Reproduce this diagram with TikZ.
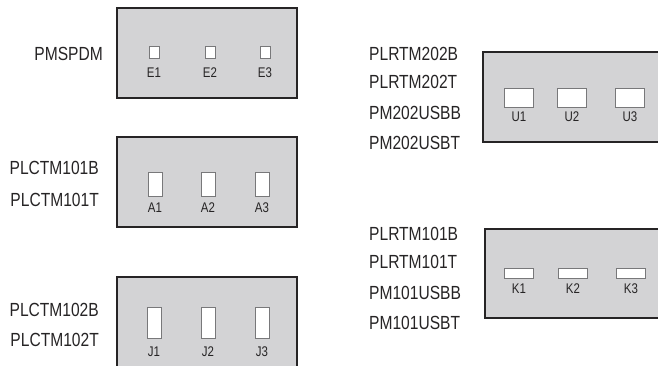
\documentclass[tikz,border=0pt]{standalone}
\usepackage{graphicx}
\usepackage{fontspec}
\setmainfont{Liberation Sans}
\usepackage{tikz}
\usetikzlibrary{positioning}

\definecolor{panelgray}{RGB}{211,211,213}
\definecolor{inkgray}{RGB}{38,36,37}
\definecolor{slotedge}{RGB}{120,120,122}
\newcommand{\cond}[1]{\scalebox{0.82}[1]{#1}}

\tikzset{
	panel/.style={draw=inkgray,line width=1.8pt,fill=panelgray,inner sep=0pt},
	slot/.style={draw=slotedge,line width=0.9pt,fill=white,inner sep=0pt},
	tag/.style={inner sep=0pt,text=inkgray,font=\fontsize{14}{16}\selectfont},
	part/.style={inner sep=0pt,text=inkgray,font=\fontsize{19}{22}\selectfont}
}

\begin{document}
\begin{tikzpicture}[x=1pt,y=-1pt]
	\useasboundingbox (0,0) rectangle (658,366);
	\clip (0,0) rectangle (658,366);
	% panels
	\node [panel,minimum width=180,minimum height=90] (pe) at (207,53) {};
	\node [panel,minimum width=180,minimum height=90] (pa) at (207,182) {};
	\node [panel,minimum width=180,minimum height=103] (pj) at (207,328.5) {};
	\node [panel,minimum width=187,minimum height=90] (pu) at (576.5,97) {};
	\node [panel,minimum width=185,minimum height=89] (pk) at (577.5,273.5) {};
	% slots
	\foreach \x [count=\i] in {154,210,265} {
		\node [slot,minimum width=10,minimum height=12] (e\i) at (\x,52) {};
		\node [tag] (e\i tag) at (\x,73) {\cond{E\i}};
	}
	\foreach \x [count=\i] in {155,208,262} {
		\node [slot,minimum width=14,minimum height=24] (a\i) at (\x,184) {};
		\node [tag] (a\i tag) at (\x,208) {\cond{A\i}};
	}
	\foreach \x [count=\i] in {154,208,262} {
		\node [slot,minimum width=14,minimum height=31] (j\i) at (\x,322.5) {};
		\node [tag] (j\i tag) at (\x,352) {\cond{J\i}};
	}
	\foreach \x [count=\i] in {519,572,630} {
		\node [slot,minimum width=29,minimum height=19] (u\i) at (\x,97.5) {};
		\node [tag] (u\i tag) at (\x,117) {\cond{U\i}};
	}
	\foreach \x [count=\i] in {519,573,631} {
		\node [slot,minimum width=29,minimum height=10] (k\i) at (\x,273) {};
		\node [tag] (k\i tag) at (\x,289) {\cond{K\i}};
	}
	% part numbers
	\node [part,anchor=east] (spdm) at (103,54) {\cond{PMSPDM}};
	\node [part,anchor=east] (ctb1) at (99,168) {\cond{PLCTM101B}};
	\node [part,anchor=east] (ctt1) at (99,200) {\cond{PLCTM101T}};
	\node [part,anchor=east] (ctb2) at (99,310) {\cond{PLCTM102B}};
	\node [part,anchor=east] (ctt2) at (99,340) {\cond{PLCTM102T}};
	\node [part,anchor=west] (rtb2) at (369,54) {\cond{PLRTM202B}};
	\node [part,anchor=west] (rtt2) at (369,82) {\cond{PLRTM202T}};
	\node [part,anchor=west] (usbb2) at (369,113) {\cond{PM202USBB}};
	\node [part,anchor=west] (usbt2) at (369,143) {\cond{PM202USBT}};
	\node [part,anchor=west] (rtb1) at (369,234) {\cond{PLRTM101B}};
	\node [part,anchor=west] (rtt1) at (369,262) {\cond{PLRTM101T}};
	\node [part,anchor=west] (usbb1) at (369,293) {\cond{PM101USBB}};
	\node [part,anchor=west] (usbt1) at (369,323) {\cond{PM101USBT}};
\end{tikzpicture}
\end{document}
